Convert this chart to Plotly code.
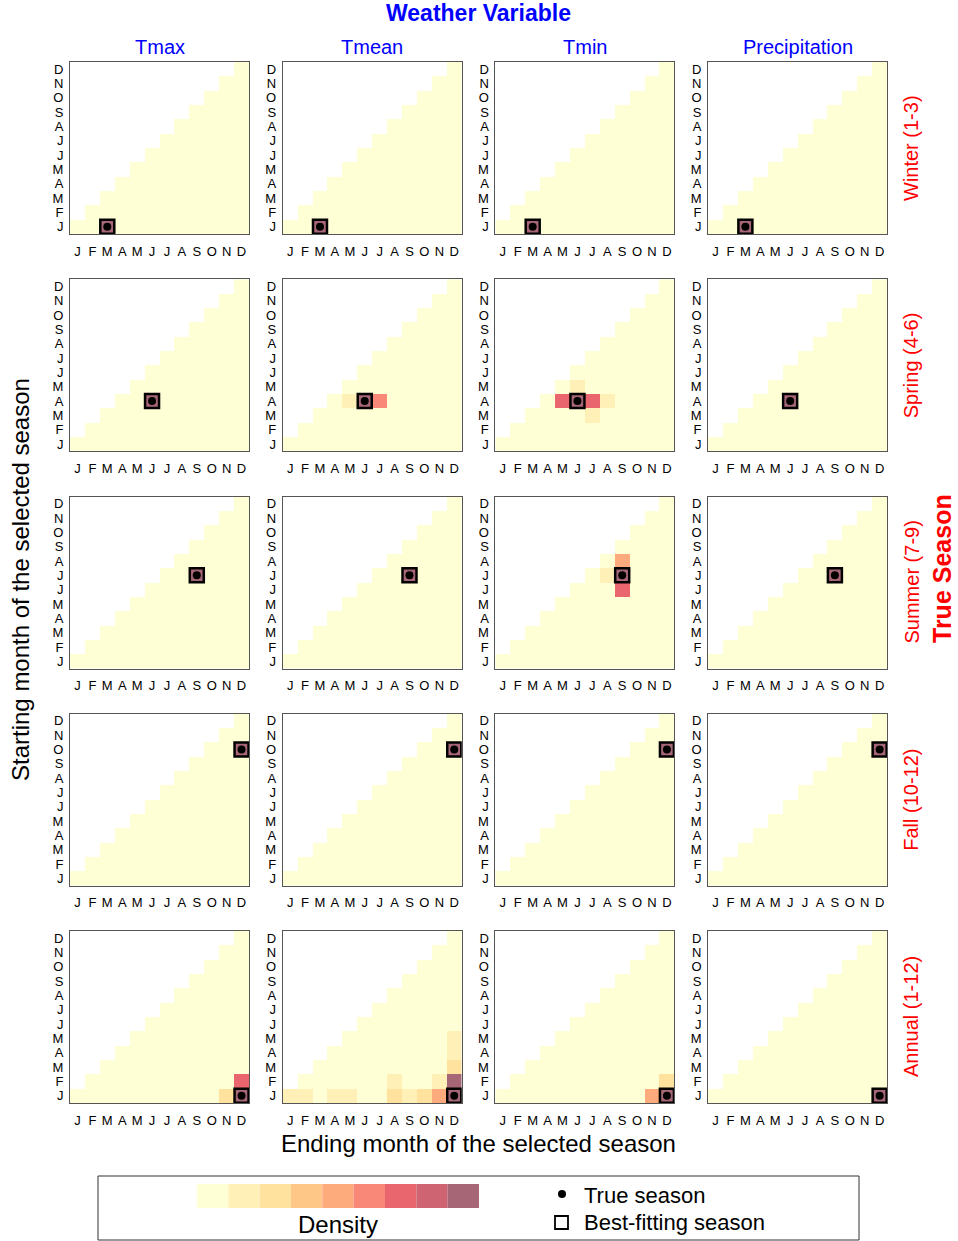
import plotly.graph_objects as go

W, H = 958, 1241

months = ["J", "F", "M", "A", "M", "J", "J", "A", "S", "O", "N", "D"]
variables = ["Tmax", "Tmean", "Tmin", "Precipitation"]
seasons = ["Winter (1-3)", "Spring (4-6)", "Summer (7-9)", "Fall (10-12)", "Annual (1-12)"]
true_start = [1, 4, 7, 10, 1]
true_end = [3, 6, 9, 12, 12]
# best-fitting season (start, end) per row and variable
best_start = [[1, 1, 1, 1], [4, 4, 4, 4], [7, 7, 7, 7], [10, 10, 10, 10], [1, 1, 1, 1]]
best_end = [[3, 3, 3, 3], [6, 6, 6, 6], [9, 9, 9, 9], [12, 12, 12, 12], [12, 12, 12, 12]]

base_density = 0.03
# non-baseline densities: (start month, end month, density), one list per variable
winter_cells = [[(1, 3, 0.97)], [(1, 3, 0.97)], [(1, 3, 0.97)], [(1, 3, 0.97)]]
spring_cells = [
    [(4, 6, 0.97)],
    [(4, 5, 0.17), (4, 6, 0.97), (4, 7, 0.61)],
    [(4, 5, 0.72), (4, 6, 0.97), (4, 7, 0.72), (4, 8, 0.17), (5, 6, 0.17), (3, 7, 0.17)],
    [(4, 6, 0.97)],
]
summer_cells = [
    [(7, 9, 0.97)],
    [(7, 9, 0.97)],
    [(7, 9, 0.97), (8, 9, 0.50), (6, 9, 0.72), (7, 8, 0.17)],
    [(7, 9, 0.97)],
]
fall_cells = [[(10, 12, 0.97)], [(10, 12, 0.97)], [(10, 12, 0.97)], [(10, 12, 0.97)]]
annual_cells = [
    [(1, 12, 0.97), (2, 12, 0.72), (1, 11, 0.28)],
    [(1, 1, 0.17), (1, 2, 0.17), (1, 4, 0.17), (1, 5, 0.17), (1, 8, 0.28), (1, 9, 0.17),
     (1, 10, 0.28), (1, 11, 0.50), (1, 12, 0.97), (2, 8, 0.17), (2, 11, 0.17),
     (2, 12, 0.92), (3, 12, 0.28), (4, 12, 0.17), (5, 12, 0.17)],
    [(1, 12, 0.97), (1, 11, 0.50), (2, 12, 0.28)],
    [(1, 12, 0.97)],
]
all_cells = [winter_cells, spring_cells, summer_cells, fall_cells, annual_cells]

density_colors = ["#FFFFD6", "#FFF0B8", "#FEE29E", "#FEC788", "#FDAA7C",
                  "#FA8878", "#E9666F", "#CE6372", "#A66675"]
n_col = len(density_colors)
colorscale = []
for i, c in enumerate(density_colors):
    colorscale.append([i / n_col, c])
    colorscale.append([(i + 1) / n_col, c])

FONT = "Liberation Sans, Arial, sans-serif"

def px_x(p):
    return p / W

def px_y(p):
    return 1 - p / H

col_left = [70 + c * 212.7 for c in range(4)]
panel_w = 179
row_top = [62 + r * 217.25 for r in range(5)]
panel_h = 172

fig = go.Figure()
layout = dict(
    width=W, height=H, margin=dict(l=0, r=0, t=0, b=0),
    paper_bgcolor="white", plot_bgcolor="white", showlegend=False,
    font=dict(family=FONT, color="black"),
)

k = 0
for r in range(5):
    for c in range(4):
        k += 1
        sfx = "" if k == 1 else str(k)
        z = []
        for s in range(1, 13):
            row = []
            for e in range(1, 13):
                row.append(base_density if e >= s else None)
            z.append(row)
        for (s, e, d) in all_cells[r][c]:
            z[s - 1][e - 1] = d
        fig.add_trace(go.Heatmap(
            x=list(range(1, 13)), y=list(range(1, 13)), z=z,
            colorscale=colorscale, zmin=0, zmax=1, showscale=False,
            xaxis="x" + sfx, yaxis="y" + sfx, hoverinfo="skip", xgap=0, ygap=0,
        ))
        fig.add_trace(go.Scatter(
            x=[best_end[r][c]], y=[best_start[r][c]], mode="markers",
            marker=dict(symbol="square-open", size=14, color="black", line=dict(width=2.5, color="black")),
            xaxis="x" + sfx, yaxis="y" + sfx, hoverinfo="skip",
        ))
        fig.add_trace(go.Scatter(
            x=[true_end[r]], y=[true_start[r]], mode="markers",
            marker=dict(symbol="circle", size=8, color="black"),
            xaxis="x" + sfx, yaxis="y" + sfx, hoverinfo="skip",
        ))
        x0 = col_left[c]
        y0 = row_top[r]
        common = dict(
            range=[0.5, 12.5], tickmode="array", tickvals=list(range(1, 13)), ticktext=months,
            showline=True, mirror=True, linecolor="#555555", linewidth=1,
            ticks="outside", tickcolor="rgba(0,0,0,0)", showgrid=False, zeroline=False,
            tickfont=dict(family=FONT, size=13, color="black"), fixedrange=True,
        )
        layout["xaxis" + sfx] = dict(common, domain=[px_x(x0), px_x(x0 + panel_w)],
                                     anchor="y" + sfx, ticklen=5)
        layout["yaxis" + sfx] = dict(common, domain=[px_y(y0 + panel_h), px_y(y0)],
                                     anchor="x" + sfx, ticklen=3)

def ann(text, x, y, size, color, angle=0, xanchor="center"):
    return dict(text=text, x=px_x(x), y=px_y(y), xref="paper", yref="paper",
                xanchor=xanchor, yanchor="middle", showarrow=False, textangle=angle,
                font=dict(size=size, color=color, family=FONT))

annotations = []
annotations.append(ann("<b>Weather Variable</b>", 478, 13, 23, "#0000FF"))
for c, v in enumerate(variables):
    annotations.append(ann(v, col_left[c] + panel_w / 2, 47, 20, "#0000FF"))
for r, s in enumerate(seasons):
    annotations.append(ann(s, 911, row_top[r] + panel_h / 2, 20, "#FF0000", angle=-90))
annotations.append(ann("<b>True Season</b>", 942, 569, 25, "#FF0000", angle=-90))
annotations.append(ann("Starting month of the selected season", 20, 580, 24, "black", angle=-90))
annotations.append(ann("Ending month of the selected season", 478, 1143, 24, "black"))
annotations.append(ann("Density", 338, 1224, 24, "black"))
annotations.append(ann("True season", 582, 1195, 22, "black", xanchor="left"))
annotations.append(ann("Best-fitting season", 582, 1222, 22, "black", xanchor="left"))
layout["annotations"] = annotations

shapes = []
shapes.append(dict(type="rect", xref="paper", yref="paper", x0=px_x(98), x1=px_x(859),
                   y0=px_y(1240), y1=px_y(1176), line=dict(color="#333333", width=1)))
strip_l, strip_r = 197, 479
cw = (strip_r - strip_l) / n_col
for i, col in enumerate(density_colors):
    shapes.append(dict(type="rect", xref="paper", yref="paper",
                       x0=px_x(strip_l + i * cw), x1=px_x(strip_l + (i + 1) * cw),
                       y0=px_y(1208), y1=px_y(1184), fillcolor=col, line=dict(width=0)))
shapes.append(dict(type="circle", xref="paper", yref="paper", x0=px_x(558), x1=px_x(566),
                   y0=px_y(1198), y1=px_y(1190), fillcolor="black", line=dict(width=0)))
shapes.append(dict(type="rect", xref="paper", yref="paper", x0=px_x(555), x1=px_x(568),
                   y0=px_y(1229), y1=px_y(1216), line=dict(color="black", width=1.8)))
layout["shapes"] = shapes

fig.update_layout(**layout)
fig.write_html("out.html")
